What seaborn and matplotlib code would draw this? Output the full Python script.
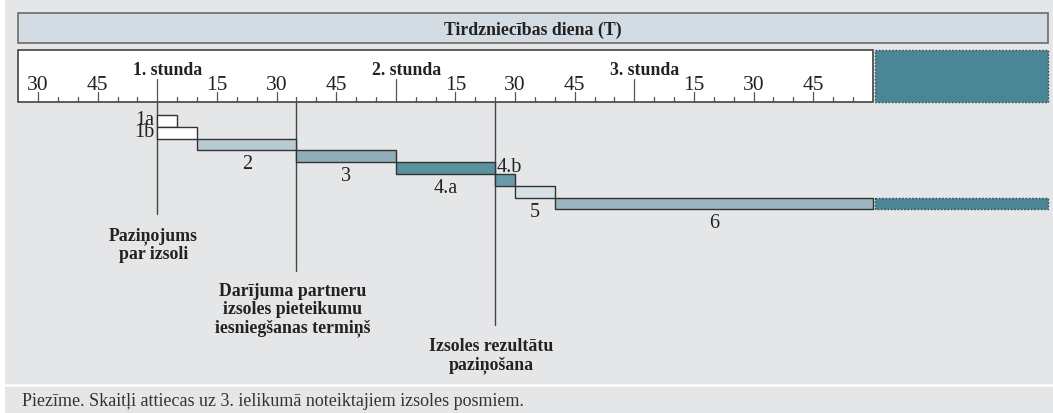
import matplotlib
matplotlib.use("Agg")
import matplotlib.pyplot as plt
from matplotlib.patches import Rectangle
import seaborn as sns

# Izsoles posmi, laiks minūtēs no 0. stundas sākuma (1. stunda = 60)
posmi = ["1a", "1b", "2", "3", "4.a", "4.b", "5", "6"]
sakums = [60, 60, 70, 95, 120, 145, 150, 160]
beigas = [65, 70, 95, 120, 145, 150, 160, 240]
krasas = ["#ffffff", "#ffffff", "#b9cad3", "#8fadb8",
          "#5a919f", "#6a9ba8", "#d6e0e5", "#9db5bf"]

# Laika skala
stundas = [60, 120, 180]
stundu_teksti = ["1. stunda", "2. stunda", "3. stunda"]
ceturksni = [30, 45, 75, 90, 105, 135, 150, 165, 195, 210, 225]
ceturksnu_teksti = ["30", "45", "15", "30", "45", "15", "30", "45", "15", "30", "45"]
minutes = list(range(30, 240, 5))
dienas_sakums, dienas_beigas, dienas_turpinajums = 25, 240, 284

# Notikumi
notikumi = [60, 95, 145]
notikumu_teksti = ["Paziņojums\npar izsoli",
                   "Darījuma partneru\nizsoles pieteikumu\niesniegšanas termiņš",
                   "Izsoles rezultātu\npaziņošana"]

virsraksts = "Tirdzniecības diena (T)"
piezime = "Piezīme. Skaitļi attiecas uz 3. ielikumā noteiktajiem izsoles posmiem."

sns.set_style("white")
plt.rcParams['font.family'] = ['Liberation Serif', 'DejaVu Serif']

fons = "#e5e6e8"
tumsa = "#333333"
zila = "#4a8696"

# pikseļi -> minūtes (x ass)
K = 3.975
def px(p):
    return 60 + (p - 157.3) / K

fig = plt.figure(figsize=(10.53, 4.14), dpi=100, facecolor=fons)
ax = fig.add_axes([0, 0, 1, 1])
ax.set_xlim(px(0), px(1053))
ax.set_ylim(414, 0)
ax.axis("off")

# balta josla kreisajā malā un atdalītājs virs piezīmes
fig.patches.append(Rectangle((0, 0), 5 / 1053, 1, transform=fig.transFigure,
                             facecolor="white", edgecolor="none"))
ax.axhline(386.5, color="white", lw=1.8)

# virsraksta josla
ax.add_patch(Rectangle((dienas_sakums, 14), dienas_turpinajums - dienas_sakums, 30,
                       facecolor="#d4dce3", edgecolor="#6b6b6b", lw=1.2))
ax.text((dienas_sakums + dienas_turpinajums) / 2, 34.5, virsraksts, ha="center",
        va="baseline", fontsize=12.8, fontweight="bold", color="#222222")

# laika skala
ax.add_patch(Rectangle((dienas_sakums, 51), dienas_beigas - dienas_sakums, 52,
                       facecolor="white", edgecolor=tumsa, lw=1.1))
ax.add_patch(Rectangle((dienas_beigas + 0.5, 51), dienas_turpinajums - dienas_beigas - 0.5, 52,
                       facecolor=zila, edgecolor="#2a4f5a", lw=1.0, linestyle=(0, (1.2, 1.2))))

for m in minutes:
    if m in stundas:
        garums = 23
    elif m in ceturksni:
        garums = 10
    else:
        garums = 5
    ax.plot([m, m], [103, 103 - garums], color="#555555", lw=0.9)

for m, t in zip(ceturksni, ceturksnu_teksti):
    ax.text(m, 90, t, ha="center", va="baseline", fontsize=15.5, color="#222222")
for m, t in zip(stundas, stundu_teksti):
    ax.text(m + 2.6, 75, t, ha="center", va="baseline", fontsize=12.8,
            fontweight="bold", color="#222222")

# notikumu līnijas un teksti
linijas_beigas = [215, 272, 326]
teksta_y = [227, 283, 338]
for m, yb, ty, t in zip(notikumi, linijas_beigas, teksta_y, notikumu_teksti):
    ax.plot([m, m], [103, yb], color="#444444", lw=1.0)
    ax.text(m - 1, ty, t, ha="center", va="top", fontsize=12.8, fontweight="bold",
            linespacing=1.08, color="#222222")

# posmu joslas
rinda = 11.8
virsa = 116
for i, (p, s, b, c) in enumerate(zip(posmi, sakums, beigas, krasas)):
    y0 = virsa + i * rinda
    ax.barh(y0 + rinda / 2, b - s, left=s, height=rinda, color=c,
            edgecolor=tumsa, lw=1.0, zorder=3)
    if p in ("1a", "1b"):
        ax.text(s - 0.8, y0 + rinda - 2.5, p, ha="right", va="baseline", fontsize=14.5, color="#222222")
    elif p == "4.b":
        ax.text(s + 0.4, y0 - 2.5, p, ha="left", va="baseline", fontsize=14.5, color="#222222")
    else:
        ax.text((s + b) / 2, y0 + rinda + 18, p, ha="center", va="baseline",
                fontsize=14.5, color="#222222")

# turpinājums pēc 6. posma
y6 = virsa + 7 * rinda
ax.barh(y6 + rinda / 2, dienas_turpinajums - dienas_beigas - 0.5, left=dienas_beigas + 0.5,
        height=rinda, color=zila, edgecolor="#2a4f5a", lw=1.0, linestyle=(0, (1.2, 1.2)), zorder=3)

# piezīme
ax.text(px(22), 406, piezime, ha="left", va="baseline", fontsize=13, color="#333333")

fig.savefig("out.png", dpi=100, facecolor=fons)
